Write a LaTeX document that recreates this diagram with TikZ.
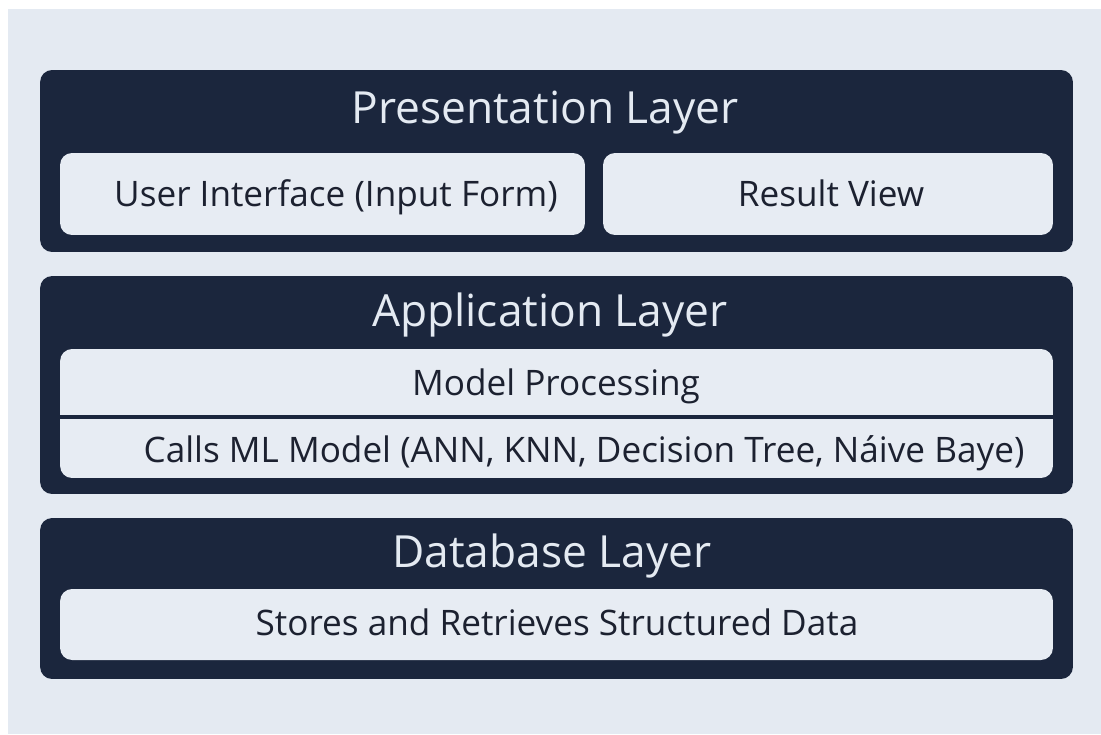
\documentclass[tikz,border=0pt]{standalone}
\usepackage{fontspec}
\setmainfont{Open Sans}
\usepackage{tikz}

\definecolor{navy}{HTML}{1B263D}
\definecolor{pale}{HTML}{E4EAF2}
\definecolor{boxfill}{HTML}{E7ECF3}
\definecolor{ink}{HTML}{1C2130}

\begin{document}
\begin{tikzpicture}[
    x=0.02cm, y=-0.02cm,
    layer/.style={fill=navy, rounded corners=0.24cm, inner sep=0pt, minimum width=20.66cm},
    part/.style={fill=boxfill, rounded corners=0.24cm, inner sep=0pt},
    label/.style={text=ink, inner sep=0pt, text height=14.3pt, text depth=0pt,
      font=\fontsize{20}{24}\selectfont},
    title/.style={text=pale, inner sep=0pt, text height=18pt, text depth=0pt,
      font=\fontsize{25.2}{29}\selectfont}
  ]

  %% ---- Background ----
  \fill[white] (0,0) rectangle (1101,734);
  \fill[pale] (8,9) rectangle (1101,734);
  \useasboundingbox (0,0) rectangle (1101,734);

  %% ---- Presentation layer ----
  \node[layer, minimum height=3.64cm] (pres) at (556.5,161) {};
  \node[title] (prestitle) at (545,108) {Presentation Layer};
  \node[part, minimum width=10.5cm, minimum height=1.64cm] (ui) at (322.5,194) {};
  \node[label] (uitext) at (336,193.5) {User Interface (Input Form)};
  \node[part, minimum width=9cm, minimum height=1.64cm] (result) at (828,194) {};
  \node[label] (resulttext) at (831,193.5) {Result View};

  %% ---- Application layer ----
  \node[layer, minimum height=4.36cm] (app) at (556.5,385) {};
  \node[title] (apptitle) at (550,311) {Application Layer};
  \node[part, minimum width=19.86cm, minimum height=2.58cm] (appbox) at (556.5,413.5) {};
  \node[label] (model) at (556,383) {Model Processing};
  \node[label] (calls) at (584,450) {Calls ML Model (ANN, KNN, Decision Tree, Náive Baye)};
  % split between the two rows
  \coordinate (split) at (0,417);
  \draw[navy, line width=2.8pt] (appbox.west |- split) -- (appbox.east |- split);

  %% ---- Database layer ----
  \node[layer, minimum height=3.22cm] (db) at (556.5,598.5) {};
  \node[title] (dbtitle) at (552,551.5) {Database Layer};
  \node[part, minimum width=19.86cm, minimum height=1.42cm] (store) at (556.5,624.5) {};
  \node[label] (storetext) at (557,622.5) {Stores and Retrieves Structured Data};

\end{tikzpicture}
\end{document}
